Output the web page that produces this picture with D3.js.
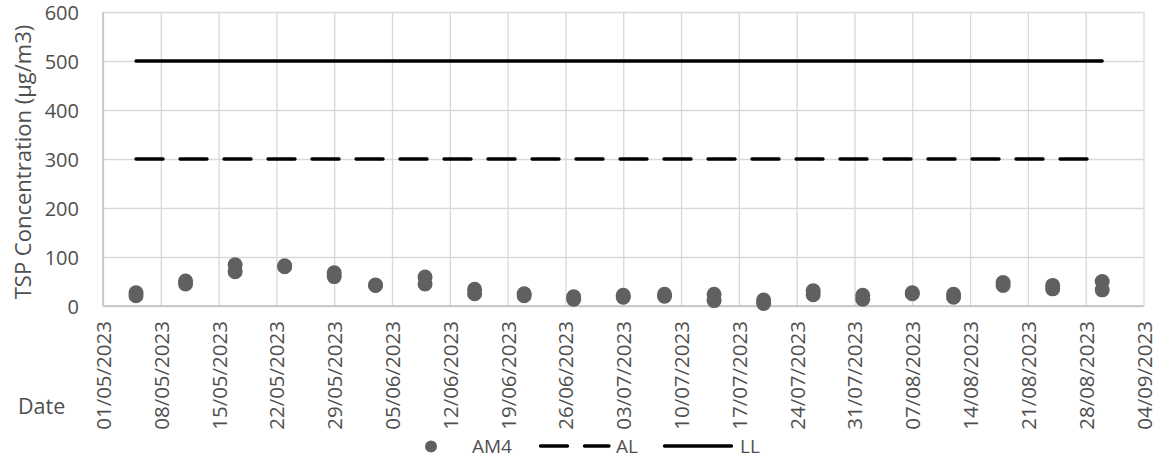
<!DOCTYPE html>
<html>
<head>
<meta charset="utf-8">
<script src="https://cdn.jsdelivr.net/npm/d3@7"></script>
<style>
  html, body { margin: 0; padding: 0; background: #ffffff; }
  svg { display: block; font-family: "Open Sans", sans-serif; }
</style>
</head>
<body>
<svg id="chart" width="1159" height="459"></svg>
<script>
// ---- data ----
const sampleDates = ["05/05/2023","11/05/2023","17/05/2023","23/05/2023","29/05/2023","03/06/2023","09/06/2023",
  "15/06/2023","21/06/2023","27/06/2023","03/07/2023","08/07/2023","14/07/2023","20/07/2023","26/07/2023",
  "01/08/2023","07/08/2023","12/08/2023","18/08/2023","24/08/2023","30/08/2023"];
const am4First  = [27, 51, 84, 82, 68, 43, 59, 34, 25, 19, 22, 24, 24, 12, 31, 22, 27, 24, 48, 42, 50];
const am4Second = [21, 45, 70, 80, 60, 42, 45, 25, 21, 14, 18, 20, 11,  5, 23, 14, 25, 18, 42, 35, 33];
const alValue = 300;   // Action Level
const llValue = 500;   // Limit Level
const xTickLabels = ["01/05/2023","08/05/2023","15/05/2023","22/05/2023","29/05/2023","05/06/2023","12/06/2023",
  "19/06/2023","26/06/2023","03/07/2023","10/07/2023","17/07/2023","24/07/2023","31/07/2023","07/08/2023",
  "14/08/2023","21/08/2023","28/08/2023","04/09/2023"];
const yTickValues = [0, 100, 200, 300, 400, 500, 600];
const seriesNames = ["AM4", "AL", "LL"];
const yTitle = "TSP Concentration (µg/m3)";
const xTitle = "Date";

// ---- setup ----
const parse = d3.utcParse("%d/%m/%Y");
const fmt = d3.utcFormat("%d/%m/%Y");
const svg = d3.select("#chart");
const textColor = "#4f4f4f";
const gridColor = "#d9d9d9";

const x = d3.scaleUtc()
  .domain([parse(xTickLabels[0]), parse(xTickLabels[xTickLabels.length - 1])])
  .range([103, 1143.5]);
const y = d3.scaleLinear().domain([0, 600]).range([306, 12]);

// horizontal gridlines (no labels) via axis
const gY = svg.append("g")
  .attr("transform", "translate(103,0)")
  .call(d3.axisLeft(y).tickValues(yTickValues).tickSize(-(1143.5 - 103)).tickFormat(""));
gY.select(".domain").remove();
gY.selectAll(".tick line").attr("stroke", gridColor).attr("stroke-width", 1.3);

// vertical gridlines
const xTickDates = xTickLabels.map(parse);
const gX = svg.append("g")
  .attr("transform", "translate(0,306)")
  .call(d3.axisBottom(x).tickValues(xTickDates).tickSize(-(306 - 12)).tickFormat(""));
gX.select(".domain").remove();
gX.selectAll(".tick line").attr("stroke", gridColor).attr("stroke-width", 1.3);

// axis lines
svg.append("line").attr("x1", 103).attr("x2", 1143.5).attr("y1", 306).attr("y2", 306)
  .attr("stroke", "#bfbfbf").attr("stroke-width", 1.3);
svg.append("line").attr("x1", 103).attr("x2", 103).attr("y1", 12).attr("y2", 306)
  .attr("stroke", "#bfbfbf").attr("stroke-width", 1.3);

// y tick labels
const yLab = svg.append("g")
  .attr("transform", "translate(103,0)")
  .call(d3.axisLeft(y).tickValues(yTickValues).tickSize(0).tickPadding(24));
yLab.select(".domain").remove();
yLab.selectAll("text").attr("fill", textColor).attr("font-size", "20px")
  .attr("font-family", "'Open Sans', sans-serif").attr("dy", "0.36em");

// x tick labels (rotated)
const xLab = svg.append("g")
  .attr("transform", "translate(0,306)")
  .call(d3.axisBottom(x).tickValues(xTickDates).tickSize(0).tickFormat(fmt));
xLab.select(".domain").remove();
xLab.selectAll("text")
  .attr("fill", textColor).attr("font-size", "20.5px")
  .attr("font-family", "'Open Sans', sans-serif")
  .attr("text-anchor", "end")
  .attr("dy", null).attr("y", 0)
  .attr("transform", "translate(7.5,15) rotate(-90)");

// titles
svg.append("text")
  .attr("transform", "translate(31,162) rotate(-90)")
  .attr("text-anchor", "middle")
  .attr("fill", textColor).attr("font-size", "22px")
  .text(yTitle);
svg.append("text")
  .attr("x", 18).attr("y", 414)
  .attr("fill", textColor).attr("font-size", "21.5px")
  .text(xTitle);

// limit lines
const sDates = sampleDates.map(parse);
const line = d3.line().x(d => x(d.date)).y(d => y(d.v));
const llData = sDates.map(d => ({date: d, v: llValue}));
const alData = sDates.map(d => ({date: d, v: alValue}));
svg.append("path").datum(alData).attr("d", line)
  .attr("fill", "none").attr("stroke", "#000").attr("stroke-width", 3.3)
  .attr("stroke-linecap", "round").attr("stroke-dasharray", "27,17");
svg.append("path").datum(llData).attr("d", line)
  .attr("fill", "none").attr("stroke", "#000").attr("stroke-width", 3.3)
  .attr("stroke-linecap", "round");

// points
const pts = [];
sDates.forEach((d, i) => {
  pts.push({date: d, v: am4First[i]});
  pts.push({date: d, v: am4Second[i]});
});
svg.append("g").selectAll("circle").data(pts).join("circle")
  .attr("cx", d => x(d.date)).attr("cy", d => y(d.v)).attr("r", 7.5)
  .attr("fill", "#606060");

// legend
const leg = svg.append("g");
leg.append("circle").attr("cx", 431).attr("cy", 446.5).attr("r", 6).attr("fill", "#606060");
leg.append("text").attr("x", 472).attr("y", 453).attr("fill", textColor).attr("font-size", "19px").text(seriesNames[0]);
leg.append("line").attr("x1", 540.5).attr("x2", 609).attr("y1", 446).attr("y2", 446)
  .attr("stroke", "#000").attr("stroke-width", 3.3).attr("stroke-linecap", "round").attr("stroke-dasharray", "27,17");
leg.append("text").attr("x", 616).attr("y", 453).attr("fill", textColor).attr("font-size", "19px").text(seriesNames[1]);
leg.append("line").attr("x1", 664.5).attr("x2", 731.5).attr("y1", 446).attr("y2", 446)
  .attr("stroke", "#000").attr("stroke-width", 3.3).attr("stroke-linecap", "round");
leg.append("text").attr("x", 740).attr("y", 453).attr("fill", textColor).attr("font-size", "19px").text(seriesNames[2]);
</script>
</body>
</html>
